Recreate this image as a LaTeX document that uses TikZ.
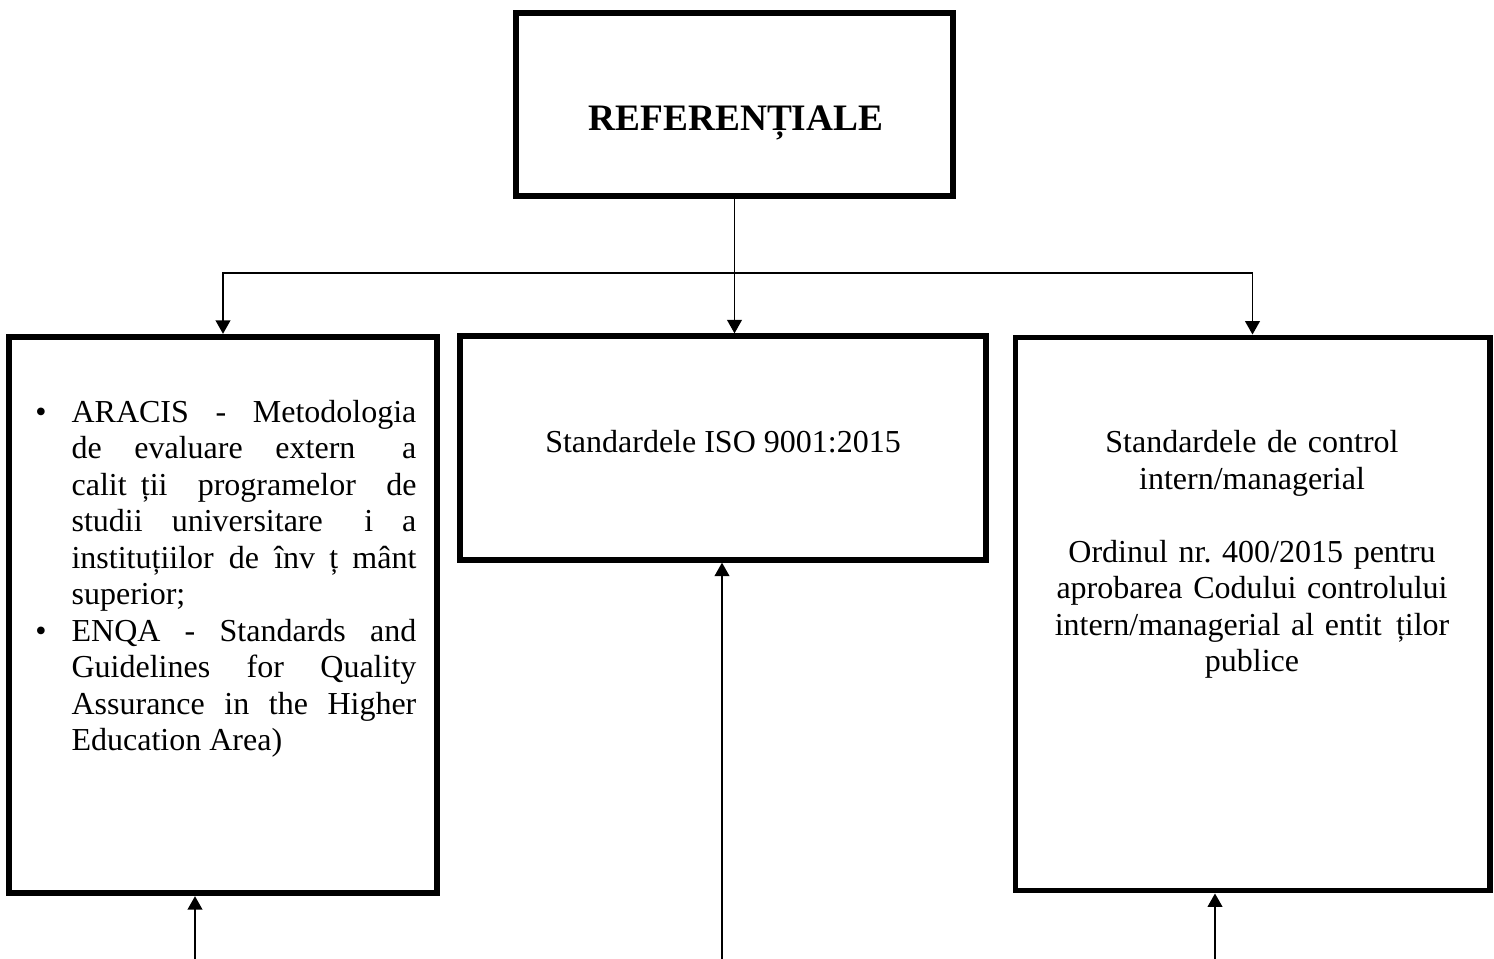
\documentclass[tikz,border=0pt]{standalone}
\usepackage{fontspec}
\setmainfont{Liberation Serif}
\usepackage{enumitem}
\usetikzlibrary{arrows.meta,positioning}

\tikzset{
  frame/.style={draw, line width=2.2pt, inner sep=0pt},
  conn/.style={line width=0.56pt},
  arr/.style={conn, -{Triangle[length=5pt,width=5.5pt]}},
  txt/.style={inner sep=0pt, font=\fontsize{12}{13.7}\selectfont\frenchspacing},
}

\begin{document}
\begin{tikzpicture}[x=0.375pt,y=-0.375pt]
    \useasboundingbox (0,0) rectangle (1494,959);
    % boxes
    \node[frame, minimum width=163.9pt, minimum height=68.6pt] (ref) at (734.5,104.5) {};
    \node[frame, minimum width=160.7pt, minimum height=208.7pt] (aracis) at (223,615) {};
    \node[frame, minimum width=197.3pt, minimum height=83.8pt] (iso) at (723,448) {};
    \node[frame, minimum width=177.8pt, minimum height=207.4pt] (cim) at (1252.5,614) {};
    % texts
    \node[txt, anchor=base, font=\fontsize{14}{16}\selectfont\bfseries] (reftext) at (736,131) {REFERENȚIALE};
    \node[txt, anchor=north west, text width=143.2pt, align=justify] (aracistext) at (34,385) {%
      \begin{itemize}[leftmargin=13.9pt,labelsep=9.4pt,labelwidth=4.5pt,itemsep=0pt,topsep=0pt,parsep=0pt,partopsep=0pt]
      \item ARACIS - Metodologia\linebreak de evaluare extern\phantom{ă} a\linebreak calit\phantom{ă}ții programelor de\linebreak studii universitare \phantom{ș}i a\linebreak instituțiilor de înv\phantom{ă}ț\phantom{ă}mânt\linebreak superior;
      \item ENQA - Standards and\linebreak Guidelines for Quality\linebreak Assurance in the Higher\linebreak Education Area)
      \end{itemize}};
    \node[txt, anchor=base] (isotext) at (723,452) {Standardele ISO 9001:2015};
    \node[txt, anchor=north, text width=170pt, align=center] (cimtext) at (1252,430) {Standardele de control\\intern/managerial\\[13.7pt]Ordinul nr. 400/2015 pentru\\aprobarea Codului controlului\\intern/managerial al entit\phantom{ă}ților\\publice};
    % connectors
    \coordinate (split) at (734.5,273);
    \coordinate (inA) at (195,959);
    \coordinate (inI) at (722,959);
    \coordinate (inC) at (1215,959);
    \draw[conn] (ref) -- (split);
    \draw[arr] (split) -| (aracis.north);
    \draw[arr] (split) -- (split |- iso.north);
    \draw[arr] (split) -| (cim.north);
    \draw[arr] (inA) -- (inA |- aracis.south);
    \draw[arr] (inI) -- (inI |- iso.south);
    \draw[arr] (inC) -- (inC |- cim.south);
\end{tikzpicture}
\end{document}
